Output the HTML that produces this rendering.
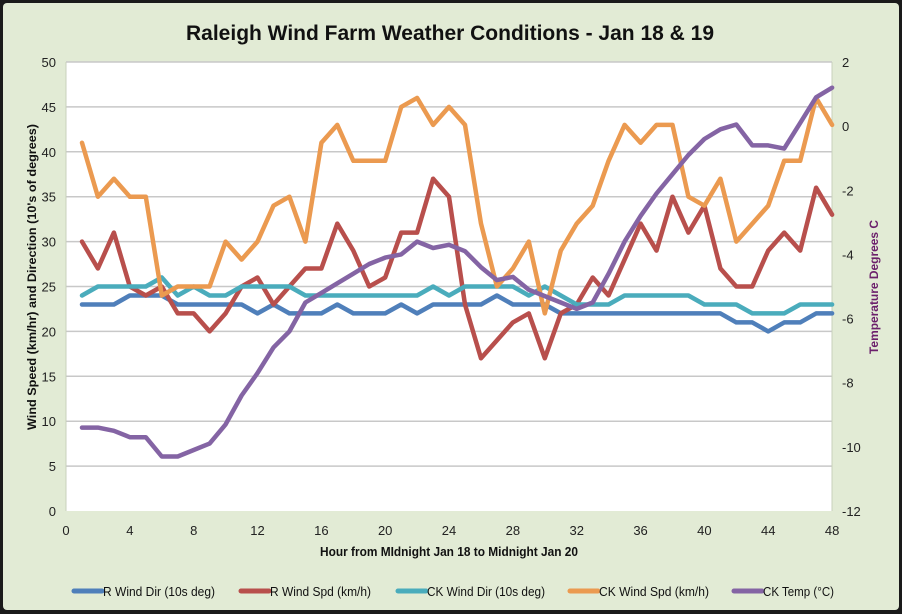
<!DOCTYPE html>
<html><head><meta charset="utf-8"><style>
html,body{margin:0;padding:0;background:#000;}
svg{display:block;}
text{font-family:"Liberation Sans Narrow","Liberation Sans",sans-serif;}
</style></head><body>
<svg id="s" width="902" height="614" viewBox="0 0 902 614" xmlns="http://www.w3.org/2000/svg">
<rect x="0" y="0" width="902" height="614" fill="#1a1a1a"/>
<rect x="3" y="3" width="896" height="607" rx="4" fill="#e2ebd5"/>
<rect x="66" y="62" width="766" height="449" fill="#fff"/>
<g id="grid" stroke="#c8c8c8" stroke-width="1.5"></g>
<line x1="66" y1="62" x2="66" y2="511" stroke="#c8d0bc" stroke-width="1"/>
<line x1="832" y1="62" x2="832" y2="511" stroke="#c8d0bc" stroke-width="1"/>
<text x="450" y="40" text-anchor="middle" font-size="21" font-weight="bold" fill="#111" textLength="528" lengthAdjust="spacingAndGlyphs">Raleigh Wind Farm Weather Conditions - Jan 18 &amp; 19</text>
<g id="ticks" font-size="13" fill="#222"></g>
<text x="449" y="556" text-anchor="middle" font-size="13" font-weight="bold" fill="#111" textLength="258" lengthAdjust="spacingAndGlyphs">Hour from MIdnight Jan 18 to Midnight Jan 20</text>
<text transform="translate(36,277) rotate(-90)" text-anchor="middle" font-size="12" font-weight="bold" fill="#111" textLength="306" lengthAdjust="spacingAndGlyphs">Wind Speed (km/hr) and Direction (10's of degrees)</text>
<text transform="translate(878,287) rotate(-90)" text-anchor="middle" font-size="12" font-weight="bold" fill="#6b1f6b" textLength="134" lengthAdjust="spacingAndGlyphs">Temperature Degrees C</text>
<g id="series" fill="none" stroke-width="4.5" stroke-linejoin="round" stroke-linecap="round"></g>
<g font-size="13" fill="#111">
<line x1="74" y1="591" x2="102" y2="591" stroke="#4f7fba" stroke-width="5" stroke-linecap="round"/><text x="103" y="596" textLength="112" lengthAdjust="spacingAndGlyphs">R Wind Dir (10s deg)</text>
<line x1="241" y1="591" x2="269" y2="591" stroke="#b84f4c" stroke-width="5" stroke-linecap="round"/><text x="270" y="596" textLength="101" lengthAdjust="spacingAndGlyphs">R Wind Spd (km/h)</text>
<line x1="398" y1="591" x2="426" y2="591" stroke="#4aacbc" stroke-width="5" stroke-linecap="round"/><text x="427" y="596" textLength="118" lengthAdjust="spacingAndGlyphs">CK Wind Dir (10s deg)</text>
<line x1="570" y1="591" x2="598" y2="591" stroke="#eb9a50" stroke-width="5" stroke-linecap="round"/><text x="599" y="596" textLength="110" lengthAdjust="spacingAndGlyphs">CK Wind Spd (km/h)</text>
<line x1="734" y1="591" x2="762" y2="591" stroke="#8464a4" stroke-width="5" stroke-linecap="round"/><text x="763" y="596" textLength="71" lengthAdjust="spacingAndGlyphs">CK Temp (°C)</text>
</g>
</svg>
<script>
var NS="http://www.w3.org/2000/svg";
function el(p,t,a,txt){var e=document.createElementNS(NS,t);for(var k in a)e.setAttribute(k,a[k]);if(txt!==undefined)e.textContent=txt;document.getElementById(p).appendChild(e);}
function X(h){return 66+h*15.96;}
function Y(v){return 511-v*8.98;}
function T(t){return 62+(2-t)*32.07;}
for(var v=5;v<=50;v+=5)el("grid","line",{x1:66,x2:832,y1:Y(v),y2:Y(v)});
for(var v=0;v<=50;v+=5)el("ticks","text",{x:56,y:Y(v)+5,"text-anchor":"end"},v);
for(var t=2;t>=-12;t-=2)el("ticks","text",{x:842,y:T(t)+5},t);
for(var h=0;h<=48;h+=4)el("ticks","text",{x:X(h),y:535,"text-anchor":"middle"},h);
var rd=[23,23,23,24,24,24,23,23,23,23,23,22,23,22,22,22,23,22,22,22,23,22,23,23,23,23,24,23,23,23,22,22,22,22,22,22,22,22,22,22,22,21,21,20,21,21,22,22];
var rs=[30,27,31,25,24,25,22,22,20,22,25,26,23,25,27,27,32,29,25,26,31,31,37,35,23,17,19,21,22,17,22,23,26,24,28,32,29,35,31,34,27,25,25,29,31,29,36,33];
var cd=[24,25,25,25,25,26,24,25,24,24,25,25,25,25,24,24,24,24,24,24,24,24,25,24,25,25,25,25,24,25,24,23,23,23,24,24,24,24,24,23,23,23,22,22,22,23,23,23];
var cs=[41,35,37,35,35,24,25,25,25,30,28,30,34,35,30,41,43,39,39,39,45,46,43,45,43,32,25,27,30,22,29,32,34,39,43,41,43,43,35,34,37,30,32,34,39,39,46,43];
var ct=[-9.4,-9.4,-9.5,-9.7,-9.7,-10.3,-10.3,-10.1,-9.9,-9.3,-8.4,-7.7,-6.9,-6.4,-5.5,-5.2,-4.9,-4.6,-4.3,-4.1,-4.0,-3.6,-3.8,-3.7,-3.9,-4.4,-4.8,-4.7,-5.1,-5.3,-5.5,-5.7,-5.5,-4.6,-3.6,-2.8,-2.1,-1.5,-0.9,-0.4,-0.1,0.05,-0.6,-0.6,-0.7,0.1,0.9,1.2];
function pl(d,c,f){var p=d.map(function(v,i){return X(i+1).toFixed(1)+","+f(v).toFixed(1)}).join(" ");el("series","polyline",{points:p,stroke:c});}
pl(rd,"#4f7fba",Y);pl(rs,"#b84f4c",Y);pl(cd,"#4aacbc",Y);pl(cs,"#eb9a50",Y);pl(ct,"#8464a4",T);
</script>
</body></html>
